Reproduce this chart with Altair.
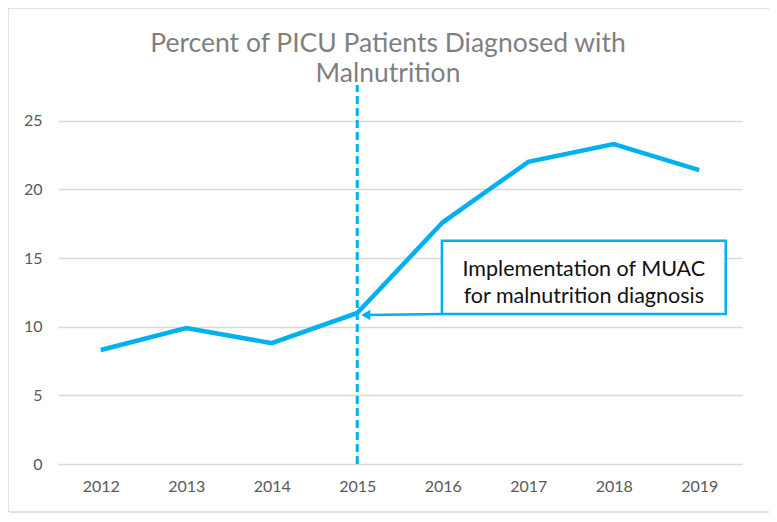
import altair as alt
import pandas as pd

years = [2012, 2013, 2014, 2015, 2016, 2017, 2018, 2019]
percent = [8.3, 9.9, 8.8, 11.0, 17.6, 22.0, 23.3, 21.4]
y_ticks = [0, 5, 10, 15, 20, 25]
title_lines = ["Percent of PICU Patients Diagnosed with", "Malnutrition"]
note_lines = ["Implementation of MUAC", "for malnutrition diagnosis"]
event_year = 2015

BLUE = "#00B0F0"
FONT = "Lato"

df = pd.DataFrame({"year": years, "pct": percent})

xs = alt.Scale(domain=[2011.5, 2019.5], nice=False, zero=False)
ys = alt.Scale(domain=[0, 27.6], nice=False, zero=True)

base_x = alt.X("year:Q", scale=xs, axis=alt.Axis(values=years, format="d", title=None, grid=False,
                                                   domain=False, ticks=False, labelPadding=14,
                                                   labelFontSize=16, labelColor="#595959", labelFont=FONT))
base_y = alt.Y("pct:Q", scale=ys, axis=alt.Axis(values=y_ticks, title=None, domain=False, ticks=False,
                                                  labelPadding=16, labelFontSize=16, labelColor="#595959",
                                                  labelFont=FONT, gridColor="#d9d9d9", gridWidth=1.5))

border = alt.Chart(pd.DataFrame({"a": [0]})).mark_rect(fillOpacity=0, stroke="#d9d9d9", strokeWidth=1.5,
                                                       cornerRadius=3, clip=False).encode(
    x=alt.value(-50), x2=alt.value(713), y=alt.value(-77), y2=alt.value(427))

line = alt.Chart(df).mark_line(color=BLUE, strokeWidth=4.5).encode(x=base_x, y=base_y)

rule = alt.Chart(pd.DataFrame({"year": [event_year], "y0": [0], "y1": [27.6]})).mark_rule(
    color=BLUE, strokeWidth=3, strokeDash=[8, 4]).encode(
    x=alt.X("year:Q", scale=xs), y=alt.Y("y0:Q", scale=ys), y2="y1:Q")

box = alt.Chart(pd.DataFrame({"x0": [2015.99], "x1": [2019.31], "y0": [10.93], "y1": [16.25]})).mark_rect(
    fill="white", stroke=BLUE, strokeWidth=2.5).encode(
    x=alt.X("x0:Q", scale=xs), x2="x1:Q", y=alt.Y("y0:Q", scale=ys), y2="y1:Q")

note = alt.Chart(pd.DataFrame({"x": [2017.65, 2017.65], "y": [14.14, 12.17], "t": note_lines})).mark_text(
    fontSize=21.5, font=FONT, color="#111111", baseline="middle", align="center").encode(
    x=alt.X("x:Q", scale=xs), y=alt.Y("y:Q", scale=ys), text="t:N")

arrow_line = alt.Chart(pd.DataFrame({"x": [2015.99, 2015.12], "y": [10.93, 10.85]})).mark_line(
    color=BLUE, strokeWidth=2.5).encode(x=alt.X("x:Q", scale=xs), y=alt.Y("y:Q", scale=ys))

arrow_head = alt.Chart(pd.DataFrame({"x": [2015.1], "y": [10.85]})).mark_point(
    shape="triangle-left", filled=True, color=BLUE, opacity=1, size=110).encode(
    x=alt.X("x:Q", scale=xs), y=alt.Y("y:Q", scale=ys))

chart = alt.layer(border, line, rule, arrow_line, arrow_head, box, note).properties(
    width=684, height=379,
    title=alt.TitleParams(text=title_lines, fontSize=26.5, font=FONT, color="#7f7f7f", fontWeight="normal",
                          anchor="middle", frame="group", dx=-12, offset=-80, lineHeight=30),
    autosize=alt.AutoSizeParams(type="none"),
    padding={"left": 50, "top": 77, "right": 27, "bottom": 50},
).configure(background="white", view=alt.ViewConfig(stroke=None))

chart.save("out.html", embed_options={"renderer": "svg", "actions": False})
